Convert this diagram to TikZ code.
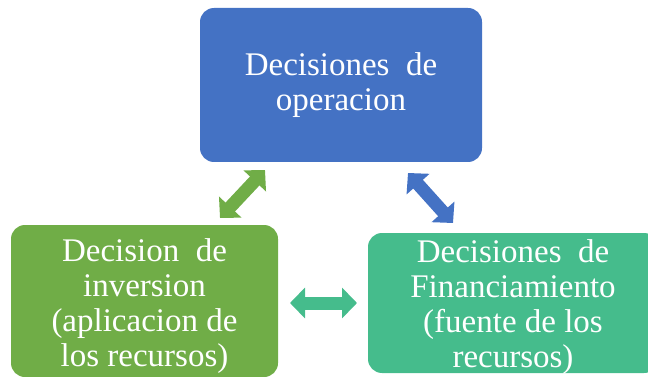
\documentclass[tikz,border=0pt]{standalone}
\usepackage{fontspec}
\setmainfont{Liberation Serif}
\usetikzlibrary{arrows.meta}

\definecolor{opblue}{HTML}{4472C4}
\definecolor{invgreen}{HTML}{70AD47}
\definecolor{fingreen}{HTML}{45BC8C}

\begin{document}
\begin{tikzpicture}[x=1pt, y=-1pt,
    box/.style={rectangle, rounded corners=14pt, text=white, align=center, inner sep=0pt,
                font=\fontsize{33}{35}\selectfont},
    twoway/.style={line width=13pt,
                {Triangle[width=30pt,length=15pt]}-{Triangle[width=30pt,length=15pt]}}]
    \useasboundingbox (0,0) rectangle (648,377);

    % cajas
    \node[box, fill=opblue, minimum width=282pt, minimum height=154pt] (oper) at (341, 85) {Decisiones\ \ de\\operacion};
    \node[box, fill=invgreen, minimum width=267pt, minimum height=152pt] (inv) at (144.5, 301) {};
    \node[box, fill=fingreen, minimum width=290pt, minimum height=140pt] (fin) at (513, 303) {};

    % textos
    \node[box] (inv_text) at (144.5, 306) {Decision\ \ de\\inversion\\(aplicacion de\\los recursos)};
    \node[box] (fin_text) at (513, 307) {Decisiones\ \ de\\Financiamiento\\(fuente de los\\recursos)};

    \coordinate (inv_a) at (220, 218);
    \coordinate (oper_a) at (265, 170);
    \coordinate (oper_b) at (408, 173);
    \coordinate (fin_b) at (453, 223);
    \coordinate (inv_c) at (290, 303);
    \coordinate (fin_c) at (357, 303);

    \draw[twoway, invgreen] (inv_a) -- (oper_a);
    \draw[twoway, opblue] (oper_b) -- (fin_b);
    \draw[twoway, fingreen] (inv_c) -- (fin_c);

\end{tikzpicture}
\end{document}
